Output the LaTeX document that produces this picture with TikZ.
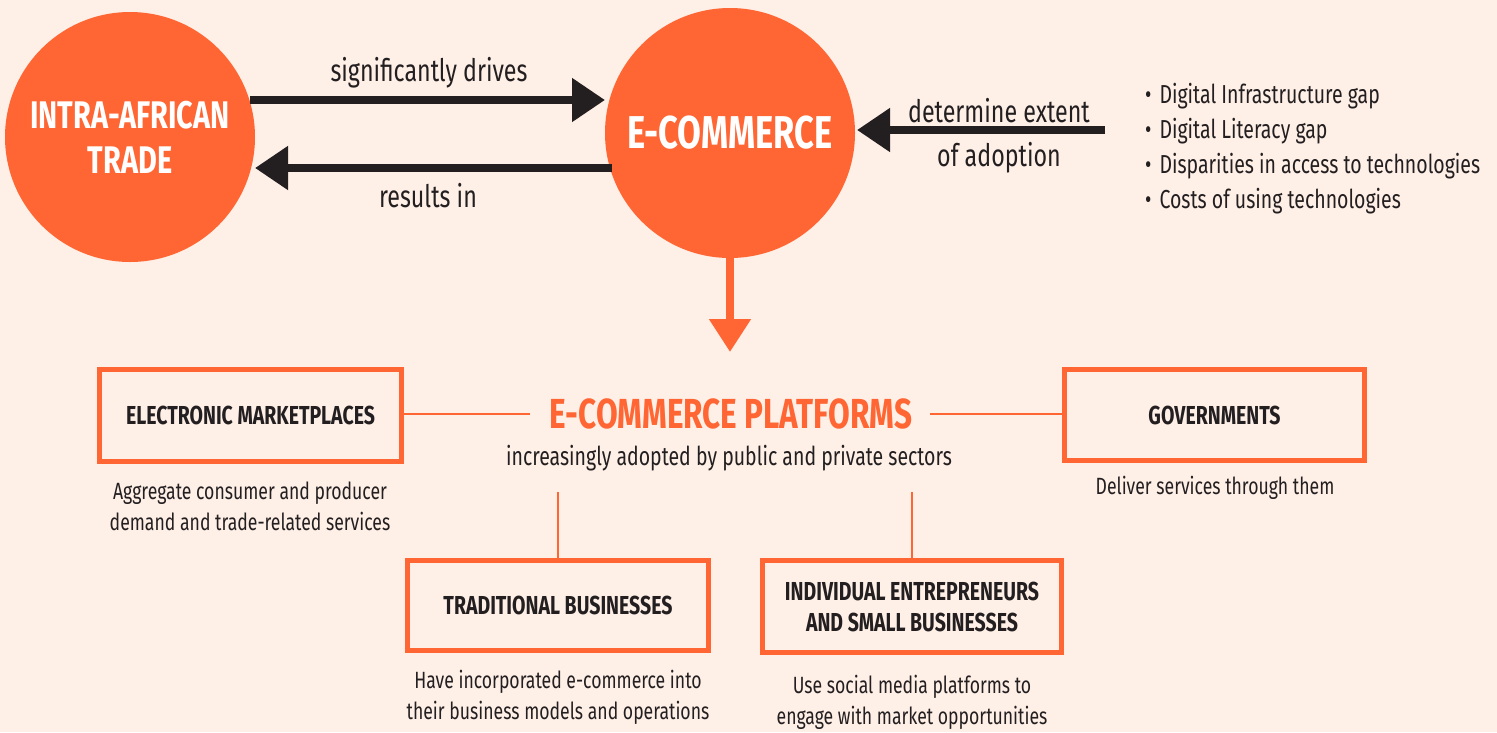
\documentclass[tikz,border=0pt]{standalone}
\usepackage{fontspec}
\setmainfont[FakeStretch=0.75]{Fira Sans}
\usetikzlibrary{arrows.meta}
\definecolor{bgc}{RGB}{254,239,231}
\definecolor{org}{RGB}{255,102,51}
\definecolor{ink}{RGB}{35,31,32}
\tikzset{
  circ/.style={circle, fill=org, minimum size=250pt, inner sep=0pt, text=white, font=\bfseries\fontsize{38.5}{45}\selectfont, align=center},
  obox/.style={draw=org, line width=5pt, fill=bgc, text=ink, font=\bfseries\fontsize{26}{31}\selectfont, align=center, inner sep=0pt},
  captxt/.style={text=ink, font=\fontsize{23.5}{31}\selectfont, align=center},
  lbl/.style={text=ink, font=\fontsize{31}{44}\selectfont, align=center},
  blk/.style={draw=ink, line width=8pt, -{Triangle[length=33pt,width=42pt]}},
  ora/.style={draw=org, line width=8pt, -{Triangle[length=33pt,width=40pt]}},
  oline/.style={draw=org, line width=2.5pt}
}
\begin{document}
\begin{tikzpicture}[x=1pt,y=-1pt]
\fill[bgc] (0,0) rectangle (1497,732);
\useasboundingbox (0,0) rectangle (1497,732);
% circles
\node[circ] (trade) at (130,137) {INTRA-AFRICAN\\TRADE};
\node[circ, font=\bfseries\fontsize{46}{50}\selectfont] (ecom) at (730,133) {E-COMMERCE};
% black arrows
\coordinate (d1) at (250,100);
\coordinate (d2) at (605,100);
\coordinate (r1) at (612,168);
\coordinate (r2) at (255,168);
\draw[blk] (d1) -- (d2);
\draw[blk] (r1) -- (r2);
\node[lbl] (drv) at (429,73) {significantly drives};
\node[lbl] (res) at (428,196) {results in};
\coordinate (f1) at (1105,130);
\coordinate (f2) at (857,130);
\draw[blk] (f1) -- (f2);
\node[lbl] (det) at (999,136) {determine extent\\of adoption};
% bullets
\node[text=ink, font=\fontsize{26}{35}\selectfont, align=left, anchor=north west, inner sep=0pt] (bul) at (1145,83)
 {\textbullet\hspace{8pt}Digital Infrastructure gap\\
  \textbullet\hspace{8pt}Digital Literacy gap\\
  \textbullet\hspace{8pt}Disparities in access to technologies\\
  \textbullet\hspace{8pt}Costs of using technologies};
% down arrow
\coordinate (dn) at (730,352);
\draw[ora] (ecom.south) -- (dn);
% platforms
\node[text=org, font=\bfseries\fontsize{42}{46}\selectfont] (plat) at (731,414) {E-COMMERCE PLATFORMS};
\node[text=ink, font=\fontsize{26}{30}\selectfont] (adopt) at (729,458) {increasingly adopted by public and private sectors};
% boxes
\node[obox, minimum width=302pt, minimum height=92pt] (em) at (250.5,415.5) {ELECTRONIC MARKETPLACES};
\node[captxt] (emc) at (250,506) {Aggregate consumer and producer\\demand and trade-related services};
\node[obox, minimum width=300pt, minimum height=91pt] (gov) at (1214.5,415) {GOVERNMENTS};
\node[captxt] (govc) at (1215,488) {Deliver services through them};
\node[obox, minimum width=301pt, minimum height=90pt] (tb) at (558,605.5) {TRADITIONAL BUSINESSES};
\node[captxt] (tbc) at (558,697) {Have incorporated e-commerce into\\their business models and operations};
\node[obox, minimum width=299pt, minimum height=92pt] (ie) at (912,606.5) {INDIVIDUAL ENTREPRENEURS\\AND SMALL BUSINESSES};
\node[captxt] (iec) at (912,702.5) {Use social media platforms to\\engage with market opportunities};
% connector lines
\coordinate (pl) at (530,414);
\coordinate (pr) at (930,414);
\coordinate (pb1) at (558,492);
\coordinate (pb2) at (912,492);
\draw[oline] (em.east |- pl) -- (pl);
\draw[oline] (pr) -- (gov.west |- pr);
\draw[oline] (pb1) -- (tb.north);
\draw[oline] (pb2) -- (ie.north);
\end{tikzpicture}
\end{document}
